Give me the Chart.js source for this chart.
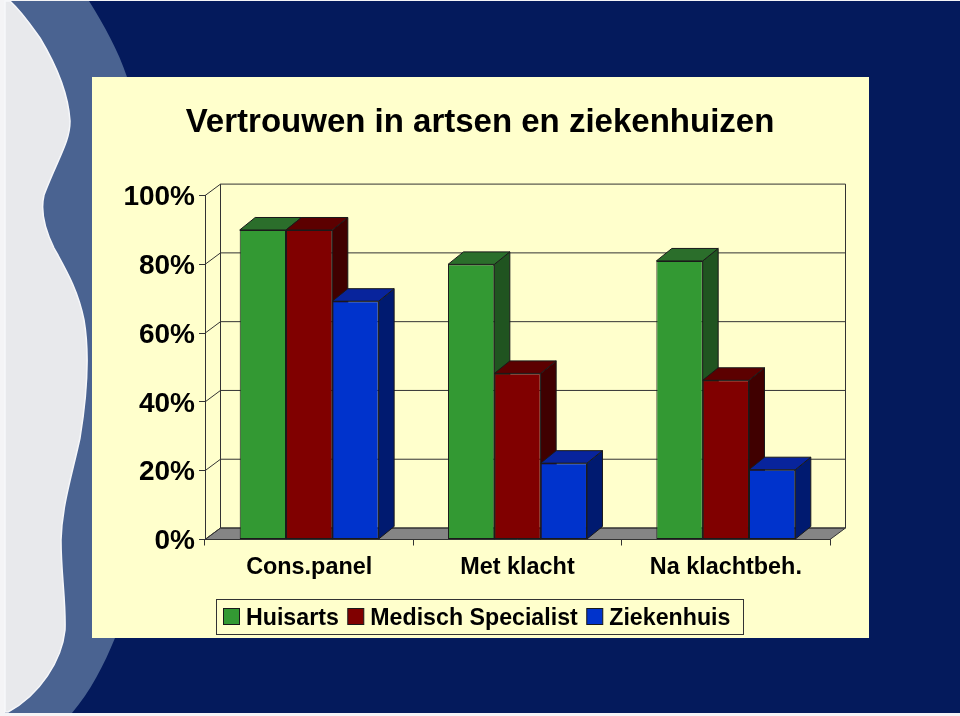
<!DOCTYPE html>
<html>
<head>
<meta charset="utf-8">
<title>Vertrouwen in artsen en ziekenhuizen</title>
<style>
  html, body { margin: 0; padding: 0; background: #f4f4f6; overflow: hidden; }
  #slide, #chart { position: absolute; left: 0; top: 0; width: 960px; height: 716px; }
</style>
</head>
<body>
<svg id="slide" viewBox="0 0 960 716">
  <rect x="5" y="1" width="955" height="712" fill="#041a5c"/>
  <path d="M5 1 H89 C104 25 118 50 127 77 V638 H115 C104 665 90 692 72 713 H5 Z" fill="#4a6391"/>
  <path d="M5 1 H10 C22 12 30 24 40 38 C52 58 68 88 70 121 C70 142 58 158 44 195 C40 212 46 232 54 248
           C66 270 78 290 84 320 C90 355 87 395 80 438 C72 475 62 505 61 540 C61 575 66 600 65 630
           C62 660 40 695 8 712 H5 Z" fill="#e8e9ec" stroke="#f6f7fa" stroke-width="1.5"/>
  <rect x="92" y="77" width="777" height="561" fill="#ffffcc"/>
</svg>
<canvas id="chart" width="960" height="716"></canvas>
<script src="https://cdn.jsdelivr.net/npm/chart.js@4/dist/chart.umd.min.js"></script>
<script>
const titleText = 'Vertrouwen in artsen en ziekenhuizen'
const categories = ['Cons.panel', 'Met klacht', 'Na klachtbeh.']
const seriesNames = ['Huisarts', 'Medisch Specialist', 'Ziekenhuis']
const huisarts = [90, 80, 81]
const specialist = [90, 48.3, 46.3]
const ziekenhuis = [69.3, 22.2, 20.3]

const frontColors = ['#339933', '#800000', '#0033cc']
const topColors = ['#2b6e2b', '#5c0000', '#08249c']
const sideColors = ['#205420', '#400000', '#001a70']

const fontFamily = '"Liberation Sans", Arial, sans-serif'
const lineColor = '#333'
const depthX = 15.5
const depthY = 11.5
const barDepthY = 12.5

function polygon(ctx, points, fill) {
  ctx.beginPath()
  points.forEach(([x, y], i) => (i ? ctx.lineTo(x, y) : ctx.moveTo(x, y)))
  ctx.closePath()
  if (fill) {
    ctx.fillStyle = fill
    ctx.fill()
  }
  ctx.stroke()
}

// back walls, floor and the gridlines that go round the corner
const walls = {
  id: 'walls',
  beforeDatasetsDraw(chart) {
    const { ctx, chartArea: area, scales: { y } } = chart
    ctx.save()
    ctx.strokeStyle = lineColor
    ctx.lineWidth = 1
    polygon(ctx, [
      [area.left, area.bottom],
      [area.left + depthX, area.bottom - depthY],
      [area.right + depthX, area.bottom - depthY],
      [area.right, area.bottom]
    ], '#858585')
    y.ticks.forEach((t) => {
      const py = y.getPixelForValue(t.value)
      ctx.beginPath()
      ctx.moveTo(area.left, py)
      ctx.lineTo(area.left + depthX, py - depthY)
      ctx.lineTo(area.right + depthX, py - depthY)
      ctx.stroke()
    })
    ctx.beginPath()
    ctx.moveTo(area.left + depthX, area.top - depthY)
    ctx.lineTo(area.left + depthX, area.bottom - depthY)
    ctx.moveTo(area.right + depthX, area.top - depthY)
    ctx.lineTo(area.right + depthX, area.bottom - depthY)
    ctx.stroke()
    ctx.restore()
  }
}

// top and side faces; the library draws the front of each bar on top of them
const barDepth = {
  id: 'barDepth',
  beforeDatasetsDraw(chart) {
    const { ctx } = chart
    ctx.save()
    ctx.strokeStyle = '#1a1a1a'
    ctx.lineWidth = 1
    chart.data.datasets.forEach((ds, i) => {
      chart.getDatasetMeta(i).data.forEach((bar) => {
        const l = bar.x - bar.width / 2
        const r = bar.x + bar.width / 2
        polygon(ctx, [[r, bar.y], [r + depthX, bar.y - barDepthY], [r + depthX, bar.base - barDepthY], [r, bar.base]], sideColors[i])
        polygon(ctx, [[l, bar.y], [l + depthX, bar.y - barDepthY], [r + depthX, bar.y - barDepthY], [r, bar.y]], topColors[i])
      })
    })
    ctx.restore()
  }
}

// the legend sits tighter than the built in one can be set to
const boxLegend = {
  id: 'boxLegend',
  afterDraw(chart) {
    const { ctx } = chart
    ctx.save()
    ctx.font = 'bold 23.2px ' + fontFamily
    ctx.textBaseline = 'middle'
    ctx.strokeStyle = lineColor
    ctx.lineWidth = 1
    ctx.strokeRect(216.5, 599.5, 527, 35)
    let x = 223.5
    seriesNames.forEach((name, i) => {
      ctx.fillStyle = frontColors[i]
      ctx.strokeStyle = '#1a1a1a'
      ctx.fillRect(x, 608.5, 16, 16)
      ctx.strokeRect(x, 608.5, 16, 16)
      ctx.fillStyle = '#000'
      ctx.fillText(name, x + 22.5, 618.5)
      x += 22.5 + ctx.measureText(name).width + 9
    })
    ctx.restore()
  }
}

new Chart(document.getElementById('chart'), {
  type: 'bar',
  data: {
    labels: categories,
    datasets: [huisarts, specialist, ziekenhuis].map((values, i) => ({
      label: seriesNames[i],
      data: values,
      backgroundColor: frontColors[i],
      borderColor: '#1a1a1a',
      borderWidth: 1,
      borderSkipped: false,
      categoryPercentage: 0.667,
      barPercentage: 1
    }))
  },
  options: {
    responsive: false,
    animation: false,
    events: [],
    plugins: {
      legend: { display: false },
      tooltip: { enabled: false },
      title: {
        display: true,
        text: titleText,
        color: '#000',
        font: { family: fontFamily, size: 33, weight: 'bold' },
        padding: { top: 103, bottom: 53 }
      }
    },
    scales: {
      x: {
        afterFit: (s) => { s.height = 176.5 },
        border: { color: lineColor },
        grid: { drawOnChartArea: false, color: lineColor, tickLength: 6 },
        ticks: {
          color: '#000',
          padding: 8,
          maxRotation: 0,
          autoSkip: false,
          font: { family: fontFamily, size: 23.4, weight: 'bold' }
        }
      },
      y: {
        min: 0,
        max: 100,
        afterFit: (s) => { s.width = 205 },
        border: { color: lineColor },
        grid: { drawOnChartArea: false, color: lineColor, tickLength: 6 },
        ticks: {
          stepSize: 20,
          color: '#000',
          padding: 4,
          labelOffset: 2,
          callback: (v) => v + '%',
          font: { family: fontFamily, size: 28, weight: 'bold' }
        }
      },
      // empty axis that keeps the plot clear of the right side, title stays centred on the page
      spacer: {
        position: 'right',
        afterFit: (s) => { s.width = 130 },
        border: { display: false },
        grid: { display: false },
        ticks: { display: false }
      }
    }
  },
  plugins: [walls, barDepth, boxLegend]
})
</script>
</body>
</html>
